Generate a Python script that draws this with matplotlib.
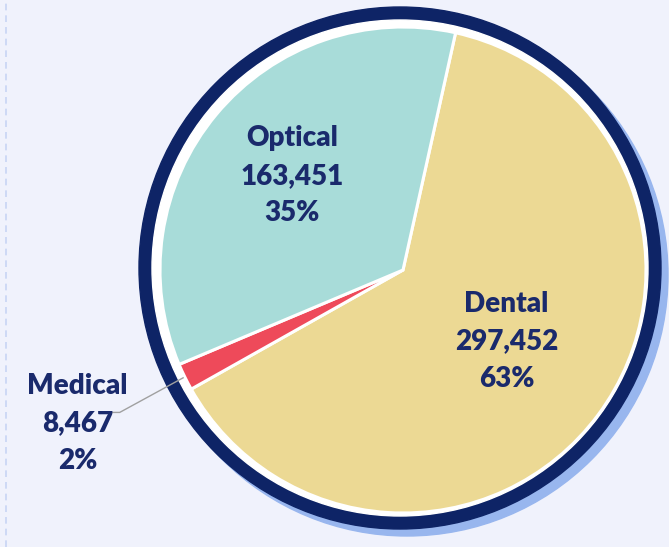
import numpy as np
import matplotlib
matplotlib.use('Agg')
import matplotlib.pyplot as plt
from matplotlib.patches import Circle

# data
categories = ['Dental', 'Medical', 'Optical']
values = [297452, 8467, 163451]
colors = ['#ecd994', '#ee4a5a', '#a8dcd9']
label_dist = [0.52, 1.5, 0.605]
label_nudge = [(0, 4), (0, 7), (0, 0)]

W, H = 669, 547
fig = plt.figure(figsize=(W / 100, H / 100), dpi=100)
fig.patch.set_facecolor('#f0f2fc')
ax = fig.add_axes([0, 0, 1, 1])
ax.set_facecolor('#f0f2fc')

# pixel-ish coords, y up
cx, cy, r = 403, H - 270, 243
rx, ry, rr = 400, H - 268, 261

# shadow, navy ring, white gap
ax.add_patch(Circle((rx + 7, ry - 7), rr, color='#98b6ee', zorder=1))
ax.add_patch(Circle((rx, ry), rr, color='#0e2466', zorder=2))
ax.add_patch(Circle((rx, ry), rr - 13, color='white', zorder=3))

wedges, _ = ax.pie(values, colors=colors, startangle=77.5, counterclock=False,
                   center=(cx, cy), radius=r,
                   wedgeprops=dict(edgecolor='white', linewidth=2.2))
for w in wedges:
    w.set_zorder(4)

total = sum(values)
for w, name, v, d, (nx, ny) in zip(wedges, categories, values, label_dist, label_nudge):
    th = np.deg2rad((w.theta1 + w.theta2) / 2)
    tx = cx + d * r * np.cos(th) + nx
    ty = cy + d * r * np.sin(th) + ny
    ax.text(tx + 2, ty, f'{name}\n{v:,}\n{v / total * 100:.0f}%', ha='center', va='center',
            fontsize=20, fontweight='heavy', family='Lato', color='#1a2a6c',
            linespacing=1.55, zorder=6)
    if d > 1:
        ex = cx + r * 1.005 * np.cos(th)
        ey = cy + r * 1.005 * np.sin(th)
        ax.plot([tx + 35, tx + 44, ex], [ty + 11, ty + 11, ey], color='#a0a0a0',
                lw=1, zorder=5, solid_capstyle='butt')

# dashed guide at left
ax.axvline(6, color='#c8d4f4', lw=1.2, ls=(0, (4, 3)), zorder=0)

ax.set_xlim(0, W)
ax.set_ylim(0, H)
ax.set_aspect('equal')
ax.axis('off')

fig.savefig('out.png', dpi=100, facecolor=fig.get_facecolor())
